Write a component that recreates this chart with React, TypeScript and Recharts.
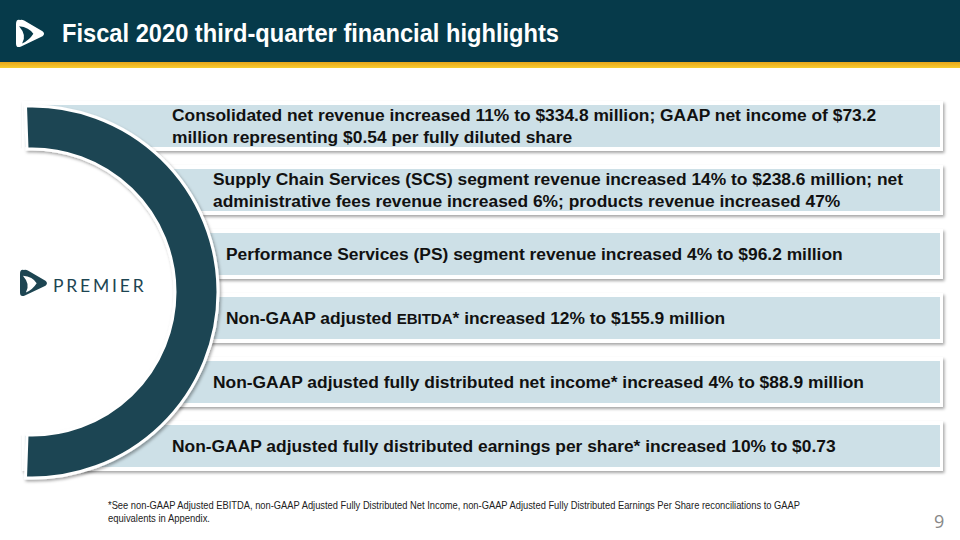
import { BarChart, Bar, XAxis, YAxis, PieChart, Pie, Cell } from 'recharts';

// six highlight bands, top to bottom
const highlights = ['Net revenue', 'SCS revenue', 'PS revenue', 'Adjusted EBITDA', 'Adjusted FDNI', 'Adjusted EPS'];
const bandLength = [100, 100, 100, 100, 100, 100];
const highlightLines = [
  ['Consolidated net revenue increased 11% to $334.8 million; GAAP net income of $73.2', 'million representing $0.54 per fully diluted share'],
  ['Supply Chain Services (SCS) segment revenue increased 14% to $238.6 million; net', 'administrative fees revenue increased 6%; products revenue increased 47%'],
  ['Performance Services (PS) segment revenue increased 4% to $96.2 million'],
  ['Non-GAAP adjusted |EBITDA|* increased 12% to $155.9 million'],
  ['Non-GAAP adjusted fully distributed net income* increased 4% to $88.9 million'],
  ['Non-GAAP adjusted fully distributed earnings per share* increased 10% to $0.73'],
];
const arcShare = [1];

const footnote = [
  '*See non-GAAP Adjusted EBITDA, non-GAAP Adjusted Fully Distributed Net Income, non-GAAP Adjusted Fully Distributed Earnings Per Share reconciliations to GAAP',
  'equivalents in Appendix.',
];

const HEADER_BG = '#063a4a';
const ARC = '#1d4552';
const BAND = '#cde0e7';
const FONT = '"Liberation Sans", Arial, sans-serif';
// where each band's text starts, following the curve of the arc
const textIndent = [172, 213, 226, 226, 213, 172];

const bandData = highlights.map((name, i) => ({ name, value: bandLength[i], lines: highlightLines[i] }));
const arcData = arcShare.map((value) => ({ value }));

function pieces(line: string) {
  return line.split('|').map((p, i) =>
    i % 2 === 1 ? (
      <tspan key={i} fontSize={15}>{p}</tspan>
    ) : (
      <tspan key={i}>{p}</tspan>
    )
  );
}

function Band(props: any) {
  const { x, y, width, height, index } = props;
  const lines: string[] = highlightLines[index];
  const mid = y + height / 2;
  return (
    <g>
      <rect x={x} y={y} width={width} height={height} fill="#fff" filter="url(#softShadow)" />
      <rect x={x + 3} y={y + 4} width={width - 6} height={height - 8} fill={BAND} />
      {lines.map((line, i) => (
        <text
          key={i}
          x={textIndent[index]}
          y={mid + (i - (lines.length - 1) / 2) * 22}
          dominantBaseline="central"
          fontFamily={FONT}
          fontWeight="bold"
          fontSize={17.4}
          fill="#111"
        >
          {pieces(line)}
        </text>
      ))}
    </g>
  );
}

function Mark({ x, y, s, fill, cut }: { x: number; y: number; s: number; fill: string; cut: string }) {
  return (
    <g transform={`translate(${x},${y}) scale(${s})`}>
      <path d="M4 1 Q0 0 0 5 L0 24 Q0 29 5 27 L26 17 Q29 14.5 26 12 L8 1.5 Q6 0.5 4 1 Z" fill={fill} />
      <path d="M3 7 Q13 8 17 14.5 Q13 21 6 24 Q11 16 3 7 Z" fill={cut} />
    </g>
  );
}

export default function App() {
  return (
    <div style={{ position: 'absolute', left: 0, top: 0, width: 960, height: 540, background: '#fff', overflow: 'hidden' }}>
      <svg width={0} height={0} style={{ position: 'absolute' }}>
        <defs>
          <filter id="softShadow" x="-5%" y="-20%" width="110%" height="150%">
            <feDropShadow dx={1.5} dy={2} stdDeviation={1.5} floodColor="#000" floodOpacity={0.35} />
          </filter>
        </defs>
      </svg>

      <svg width={960} height={70} style={{ position: 'absolute', left: 0, top: 0 }}>
        <defs>
          <linearGradient id="goldStripe" x1="0" y1="0" x2="0" y2="1">
            <stop offset="0" stopColor="#e6a51a" />
            <stop offset="1" stopColor="#f8cd30" />
          </linearGradient>
        </defs>
        <rect x={0} y={0} width={960} height={62} fill={HEADER_BG} />
        <rect x={0} y={62} width={960} height={6} fill="url(#goldStripe)" />
        <Mark x={16} y={19} s={1.02} fill="#fff" cut={HEADER_BG} />
        <text
          x={62}
          y={42}
          fontFamily={FONT}
          fontWeight="bold"
          fontSize={26}
          fill="#fff"
          textLength={497}
          lengthAdjust="spacingAndGlyphs"
        >
          Fiscal 2020 third-quarter financial highlights
        </text>
      </svg>

      <div style={{ position: 'absolute', left: 0, top: 0 }}>
        <BarChart
          width={960}
          height={540}
          data={bandData}
          layout="vertical"
          margin={{ top: 94, right: 17, bottom: 62, left: 22 }}
        >
          <XAxis type="number" domain={[0, 100]} hide />
          <YAxis type="category" dataKey="name" hide />
          <Bar dataKey="value" barSize={50} shape={Band} isAnimationActive={false} />
        </BarChart>
      </div>

      <div style={{ position: 'absolute', left: 0, top: 0 }}>
        <PieChart width={960} height={540}>
          <Pie
            data={arcData}
            dataKey="value"
            cx={27}
            cy={287}
            innerRadius={0}
            outerRadius={144}
            startAngle={0}
            endAngle={360}
            stroke="none"
            isAnimationActive={false}
          >
            {arcData.map((_, i) => (
              <Cell key={i} fill="#fff" />
            ))}
          </Pie>
          <Pie
            data={arcData}
            dataKey="value"
            cx={27}
            cy={287}
            innerRadius={143}
            outerRadius={186}
            startAngle={92}
            endAngle={-92}
            stroke="#fff"
            strokeWidth={3}
            isAnimationActive={false}
            style={{ filter: 'url(#softShadow)' }}
          >
            {arcData.map((_, i) => (
              <Cell key={i} fill={ARC} />
            ))}
          </Pie>
        </PieChart>
      </div>

      <svg width={160} height={44} style={{ position: 'absolute', left: 0, top: 262 }}>
        <Mark x={20} y={7} s={0.98} fill={ARC} cut="#fff" />
        <text x={53} y={30} fontFamily='Lato, "Open Sans", sans-serif' fontSize={17.5} letterSpacing={2.8} fill={ARC}>
          PREMIER
        </text>
      </svg>

      <svg width={960} height={40} style={{ position: 'absolute', left: 0, top: 494 }}>
        {footnote.map((f, i) => (
          <text
            key={i}
            x={108}
            y={15 + i * 13}
            fontFamily={FONT}
            fontSize={10.5}
            fill="#222"
            textLength={i === 0 ? 692 : 102}
            lengthAdjust="spacingAndGlyphs"
          >
            {f}
          </text>
        ))}
      </svg>
      <div style={{ position: 'absolute', left: 934, top: 509, fontFamily: '"Open Sans", sans-serif', fontSize: 18, color: '#888' }}>9</div>
    </div>
  );
}
